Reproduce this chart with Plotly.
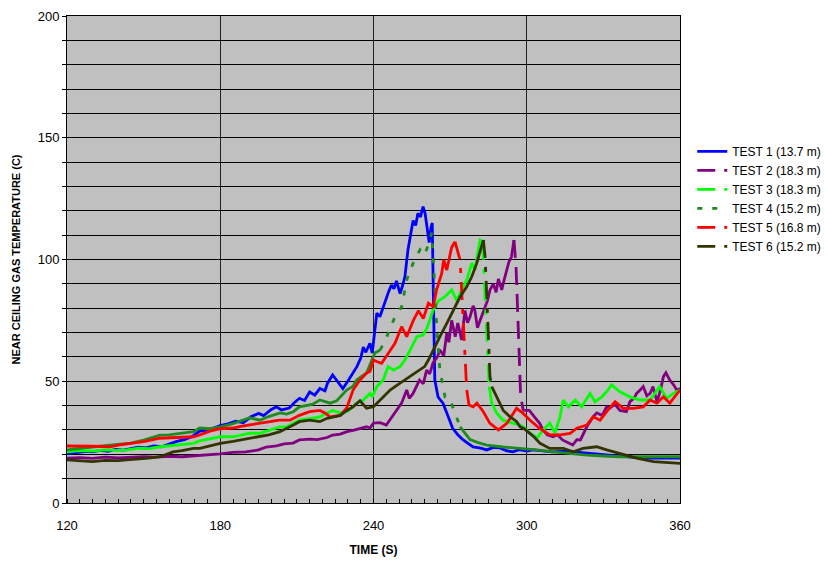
import plotly.graph_objects as go

# ---------------- data ----------------
names = ["TEST 1 (13.7 m)", "TEST 2 (18.3 m)", "TEST 3 (18.3 m)",
         "TEST 4 (15.2 m)", "TEST 5 (16.8 m)", "TEST 6 (15.2 m)"]

t1 = [120, 124, 128, 130, 133, 136, 139, 142, 145, 148, 151, 154, 157, 160, 163, 166, 169, 172, 175, 178,
      180, 183, 186, 189, 192, 195, 197, 200, 202, 204, 207, 209, 211, 213, 215, 217, 219, 221, 222, 224,
      226, 228, 230, 232, 233.5, 235, 236, 237, 238.6, 239.5, 240.6, 241.3, 242.5, 243.8, 245, 246, 247, 248,
      249, 250.4, 251.3, 252.3, 253.5, 254.5, 255.5, 256.5, 257.4, 258.4, 259.4, 260.2, 260.8, 261.8, 262.5,
      263.0, 263.4, 264, 265.3, 267.2, 268.7, 270, 271, 273, 275, 277, 279, 282, 284.3, 287, 289.5, 292,
      294.6, 297, 300, 302.5, 306, 310, 315, 320, 324, 330, 336, 342, 349, 355, 360]
v1 = [20.3, 20.8, 21.2, 21.0, 21.6, 21.2, 22.0, 21.7, 22.4, 22.9, 22.6, 23.4, 23.1, 24.2, 25.3, 26.0, 27.3, 29.5, 29.9, 31.0,
      31.8, 32.5, 33.6, 33.0, 35.4, 36.8, 35.9, 38.4, 39.5, 38.2, 39.0, 41.2, 43.0, 42.1, 45.6, 44.3, 47.0, 46.1, 49.2, 52.6,
      49.8, 47.0, 50.1, 53.4, 56.0, 59.5, 64.0, 61.9, 65.6, 61.6, 72.0, 78.0, 76.5, 80.6, 84.0, 87.0, 89.5, 88.0,
      91.2, 86.0, 89.0, 93.0, 104.0, 110.0, 116.0, 114.0, 119.0, 117.5, 121.7, 119.0, 115.0, 107.0, 113.0,
      115.0, 87.5, 50.5, 43.5, 41.0, 37.0, 33.5, 30.7, 28.0, 26.0, 24.5, 23.0, 22.5, 21.8, 22.8, 22.6, 21.5,
      21.0, 21.9, 21.3, 21.8, 21.4, 21.0, 21.3, 20.8, 20.5, 19.8, 19.0, 18.7, 18.4, 18.5, 18.4]

t2 = [120, 125, 130, 135, 140, 145, 150, 155, 160, 165, 170, 175, 180, 185, 190, 195, 198, 202, 205, 208.5,
      211, 215, 218, 221.8, 224, 227, 229.6, 232, 235, 237.3, 238.6, 240, 242.6, 245, 247, 249, 251, 253, 254,
      255.5, 257, 258, 259.5, 260.8, 262, 263.3, 265, 266, 267.5, 268.7, 269.5, 270.6, 272, 273, 274.5, 275.8,
      276.8, 277.8, 279, 279.7, 280.7, 281.7, 282.7, 283.7, 284.6, 285.6, 286.9, 288, 288.9, 290.2, 291, 292,
      293, 294, 295, 295.8, 296.3, 297.0, 297.6, 298.6, 301, 303, 305, 306.4, 308, 310.3, 312, 314, 316, 318,
      319.6, 321, 323.5, 326, 327.4, 329.5, 331.3, 332.6, 334.5, 336.5, 339, 340.4, 342, 343, 344.4, 345.6,
      347, 348.3, 349.4, 351, 352.3, 353.5, 354.5, 356, 357.5, 358.7, 360]
v2 = [18.4, 18.6, 18.3, 18.8, 18.5, 18.9, 19.0, 18.8, 19.2, 19.0, 19.3, 19.8, 20.2, 20.8, 21.0, 21.8, 23.0, 23.5, 24.3, 24.6,
      25.9, 26.2, 26.0, 26.9, 27.9, 28.3, 29.3, 29.8, 30.5, 31.3, 30.8, 32.8, 33.0, 32.0, 35.0, 38.0, 41.0, 46.4, 43.0,
      45.0, 48.0, 50.5, 49.0, 54.6, 53.0, 57.5, 60.0, 62.8, 60.5, 69.8, 66.0, 75.0, 68.3, 73.9, 67.0, 79.0,
      74.0, 76.5, 81.0, 79.0, 72.0, 75.0, 78.5, 80.6, 83.0, 87.5, 90.0, 86.5, 92.0, 87.5, 91.0, 95.7,
      99.0, 101.0, 108.0, 97.0, 83.0, 60.0, 44.0, 38.0, 38.0, 35.4, 32.8, 30.0, 28.0, 27.2, 28.0, 25.9, 25.0, 23.8,
      26.0, 25.9, 31.3, 35.4, 37.0, 36.0, 39.5, 39.0, 40.5, 38.0, 37.5, 41.6, 43.0, 45.0, 46.4, 47.8,
      44.0, 45.0, 47.8, 41.6, 46.0, 51.9, 53.5, 50.5, 48.5, 46.4, 47.0]

t3 = [120, 125, 130, 135, 140, 143.4, 148, 152, 156.4, 160, 165, 169.5, 172, 176, 180, 185, 188, 191.6, 195.5, 199,
      203.4, 206, 208, 211, 215, 219, 221, 224, 227, 229.5, 231.5, 233.4, 236, 238.6, 239.5, 241.3, 243.8, 245.7,
      247.8, 250.4, 252.3, 254.3, 257, 259.4, 261, 262, 263.3, 265.4, 268, 270.6, 272.6, 274.5, 276.5, 278.5,
      279.7, 281.7, 282.7, 285.3, 286.3, 288.2, 290.7, 294.6, 297.4, 298.6, 301.3, 304, 306.5, 309, 311, 313,
      314.3, 316.3, 319, 321.5, 324.8, 326.7, 329.4, 331.3, 333.2, 336.5, 340.4, 344.4, 348.3, 352, 354.8, 357.4, 360]
v3 = [21.0, 21.5, 21.3, 21.8, 21.6, 21.8, 22.5, 22.3, 23.1, 23.5, 24.0, 24.5, 25.5, 26.5, 27.2, 27.2, 27.8, 28.7, 28.6, 29.8,
      31.3, 31.3, 32.5, 34.0, 34.6, 35.4, 36.5, 38.0, 37.0, 37.5, 39.0, 41.0, 42.3, 45.0, 43.6, 47.8, 50.5, 56.0,
      54.6, 56.0, 58.7, 62.8, 68.3, 69.0, 72.0, 75.0, 79.0, 83.0, 84.7, 87.5, 83.0, 87.5, 91.6, 98.5,
      95.7, 108.0, 107.3, 47.8, 41.0, 37.0, 34.0, 32.8, 32.0, 31.3, 28.7, 26.7, 30.0, 32.8, 28.7, 35.4,
      42.3, 39.5, 42.3, 39.5, 45.0, 41.6, 43.6, 45.7, 48.5, 45.7, 43.6, 42.3, 42.3, 47.8, 43.0, 45.0, 46.4]

t4 = [120, 125, 130, 136.8, 140, 145, 150, 156.4, 160, 165, 169.5, 172, 176, 180, 185, 191.6, 195.5, 199, 203.4, 206,
      208.6, 211, 216, 219, 223, 225.6, 229.5, 232, 233.4, 237.3, 239, 240.5, 242.6, 245.2, 248.4, 251, 253, 255.5,
      258.2, 260, 261.4, 262.8, 264, 264.8, 266, 268, 270, 271, 273.9, 277.8, 281, 284.3, 290.7, 297, 303.9,
      310.3, 317, 323.6, 330, 336.5, 345, 352, 360]
v4 = [21.8, 22.5, 23.0, 23.8, 24.0, 24.6, 25.8, 27.9, 28.0, 28.6, 29.3, 30.8, 30.5, 31.3, 32.6, 35.0, 34.0, 35.5, 37.0, 36.5,
      37.5, 39.5, 40.5, 42.3, 41.0, 42.0, 46.4, 48.0, 50.5, 53.4, 58.0, 61.6, 62.8, 68.3, 76.5, 80.6, 91.6, 98.5,
      104.0, 101.8, 106.0, 111.0, 89.0, 71.0, 54.6, 43.6, 43.0, 39.5, 31.3, 26.0, 24.8, 23.8, 23.0, 22.5, 21.8,
      21.0, 20.3, 19.7, 19.3, 19.0, 19.0, 18.9, 19.0]

t5 = [120, 125, 130, 136.8, 140, 145, 150, 156.4, 160, 165, 169.5, 172, 176, 180, 185, 188, 191.6, 195.5, 199.5, 203,
      207.3, 211, 215, 219, 221, 223, 227, 229.5, 232, 234.7, 237.3, 238.6, 240, 241.5, 243.2, 245.8, 248.4, 251,
      253, 255.6, 257.6, 259.5, 261.5, 263.4, 264.7, 266.7, 267.5, 268.7, 270.6, 271.9, 273.2, 273.9, 276.5,
      277.4, 279, 280.5, 283, 285.6, 288.9, 292.2, 294.7, 296, 298.6, 301.3, 305, 309, 313, 317, 319.6, 323.5,
      326, 328.7, 331.3, 334.6, 337.8, 341.7, 345.6, 348.3, 351, 353.5, 356, 360]
v5 = [23.4, 23.5, 23.3, 23.1, 23.8, 24.5, 25.2, 26.6, 26.8, 27.0, 27.2, 28.0, 29.5, 30.5, 30.8, 31.5, 32.0, 32.7, 33.4, 34.0,
      34.0, 36.0, 37.5, 38.0, 37.0, 35.4, 36.0, 39.0, 46.4, 50.5, 53.4, 54.0, 58.7, 58.0, 57.4, 61.5, 65.6, 72.4,
      68.3, 75.0, 79.0, 75.8, 82.0, 80.6, 87.5, 94.3, 99.8, 95.7, 105.0, 107.3, 102.5, 99.8, 46.4,
      40.2, 39.5, 41.0, 37.5, 32.7, 30.0, 32.7, 36.8, 38.9, 36.8, 34.0, 30.7, 28.0, 28.0, 28.6, 30.7, 32.0,
      35.4, 34.0, 37.5, 41.6, 38.9, 38.9, 39.5, 42.3, 41.0, 43.6, 41.0, 46.4]

t6 = [120, 125, 130, 135, 140, 143.4, 148, 152, 156.4, 159, 161.5, 165, 169.5, 172, 176, 180, 185, 191.6, 195.5, 199,
      203.4, 206, 208.6, 211, 215, 219, 221.8, 225, 227, 229.6, 232, 234.7, 237.3, 240, 242.6, 246.5, 250.4, 254.3,
      258.2, 260, 261.5, 264, 266, 268.7, 271.3, 273.9, 276.5, 278.5, 280.4, 282.4, 283, 283.7, 285, 285.6,
      286.3, 288.2, 289.5, 290.8, 293.5, 296, 297.4, 299, 301.3, 303, 305.2, 309, 314.3, 318.2, 322, 327.4,
      331.3, 336.5, 343, 349.6, 355, 360]
v6 = [17.7, 17.3, 17.0, 17.5, 17.4, 17.7, 18.0, 18.4, 19.0, 20.0, 21.0, 21.5, 22.4, 22.4, 23.5, 24.5, 25.3, 26.6, 27.2, 28.0,
      29.3, 30.5, 32.0, 33.4, 34.0, 33.4, 34.8, 35.5, 36.0, 38.0, 39.5, 42.0, 38.9, 39.5, 42.3, 46.4, 49.2, 51.9,
      54.6, 56.0, 58.7, 64.2, 68.3, 73.8, 79.3, 84.7, 88.8, 93.0, 98.4, 105.3, 108.0, 101.0, 68.3, 51.9,
      47.8, 43.6, 41.0, 38.0, 35.4, 33.5, 31.3, 30.5, 28.5, 27.0, 24.5, 22.4, 22.4, 21.0, 22.4, 23.1,
      21.8, 20.4, 18.4, 17.0, 16.6, 16.3]

times = [t1, t2, t3, t4, t5, t6]
values = [v1, v2, v3, v4, v5, v6]

# styling
colors = ["#0000FF", "#800080", "#00FF00", "#1F8A1F", "#FF0000", "#333300"]
dashes = ["solid", "18px,9px", "18px,9px,5px,9px", "5px,10px", "18px,9px,5px,9px", "18px,9px,5px,9px"]
# time windows where the (steep) line shows its dash pattern
dash_spans = [None, (295.0, 298.6), (282.7, 285.3), (242.6, 273.9), (271.9, 276.5), (283.0, 286.3)]
LW = 2.8

fig = go.Figure()
for name, t, v, c, d, span in zip(names, times, values, colors, dashes, dash_spans):
    if span is None:
        fig.add_trace(go.Scatter(x=t, y=v, mode="lines", name=name,
                                 line=dict(color=c, width=LW, dash=d)))
        continue
    a, b = span
    sx, sy, dx, dy = [], [], [], []
    inserted = False
    for tt, vv in zip(t, v):
        if tt <= a or tt >= b:
            if tt >= b and not inserted:
                sx.append(None); sy.append(None); inserted = True
            sx.append(tt); sy.append(vv)
        if a <= tt <= b:
            dx.append(tt); dy.append(vv)
    fig.add_trace(go.Scatter(x=sx, y=sy, mode="lines", name=name, showlegend=False,
                             legendgroup=name, line=dict(color=c, width=LW)))
    fig.add_trace(go.Scatter(x=dx, y=dy, mode="lines", name=name, legendgroup=name,
                             line=dict(color=c, width=LW, dash=d)))

font = "Arial, Liberation Sans, sans-serif"
fig.update_layout(
    width=828, height=561,
    margin=dict(l=67, r=148, t=16, b=58, autoexpand=False),
    paper_bgcolor="white", plot_bgcolor="#C0C0C0",
    font=dict(family=font, size=13, color="black"),
    showlegend=True,
    legend=dict(x=1.02, y=0.752, xanchor="left", yanchor="top", bgcolor="rgba(0,0,0,0)",
                font=dict(size=12), tracegroupgap=0, itemwidth=30),
    xaxis=dict(range=[120, 360], tickvals=[120, 180, 240, 300, 360], showgrid=True, automargin=False,
               gridcolor="#222222", gridwidth=1, showline=True, linecolor="black", mirror=True,
               ticks="", zeroline=False, ticklabelstandoff=10,
               minor=dict(dtick=5, ticks="inside", ticklen=4, tickcolor="black", showgrid=False),
               title=dict(text="<b>TIME (S)</b>", font=dict(size=12), standoff=14)),
    yaxis=dict(range=[0, 200], tickvals=[0, 50, 100, 150, 200], showgrid=True, automargin=False,
               gridcolor="black", gridwidth=1, showline=True, linecolor="black", mirror=True,
               ticks="outside", ticklen=4, tickcolor="black", zeroline=False,
               minor=dict(dtick=10, showgrid=True, gridcolor="black", gridwidth=1,
                          ticks="outside", ticklen=4, tickcolor="black"),
               title=dict(text="<b>NEAR CEILING GAS TEMPERATURE (C)</b>", font=dict(size=11), standoff=14)),
)

fig.write_html("out.html", config={"displayModeBar": False},
               post_script="document.body.style.margin='0px';")
